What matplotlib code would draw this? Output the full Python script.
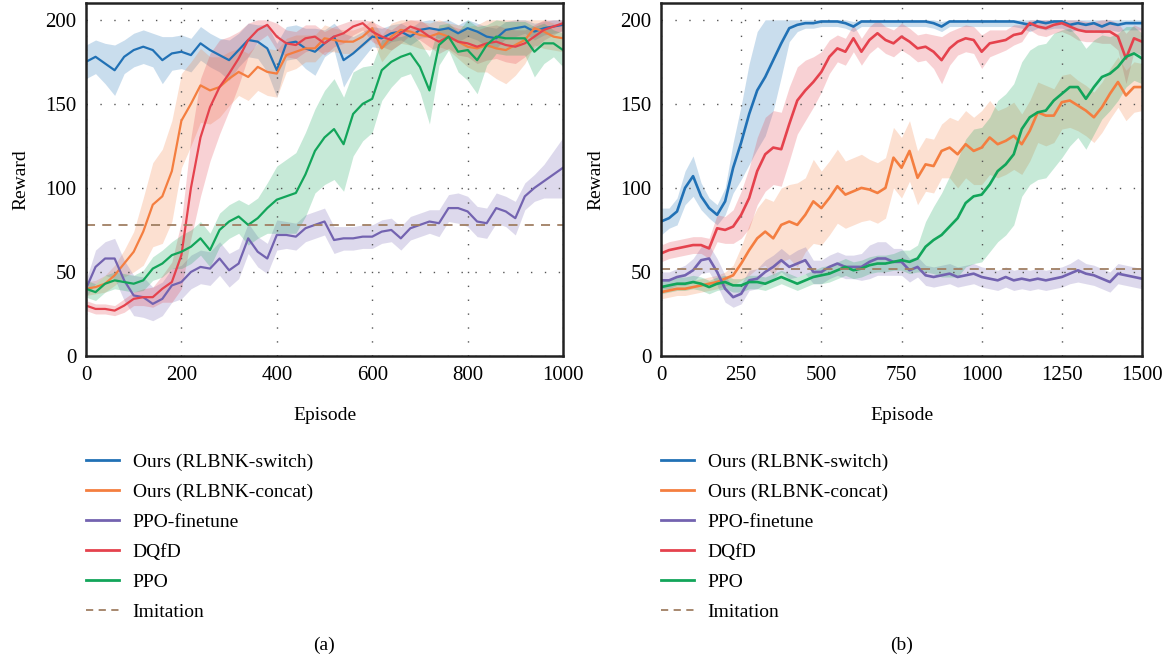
import numpy as np
from matplotlib import pyplot as plt
from matplotlib.lines import Line2D

plt.rcParams['font.family'] = ['Liberation Serif', 'DejaVu Serif']
plt.rcParams['font.size'] = 14

# ---------------- datos panel (a), cada 20 episodios ----------------
ep_a = np.arange(0, 1001, 20)

switch_a = [175, 178, 174, 170, 178, 182, 184, 182, 176, 180,
            181, 179, 186, 182, 179, 176, 182, 188, 187, 183,
            170, 186, 187, 183, 181, 186, 190, 176, 180, 185,
            190, 189, 192, 193, 190, 194, 195, 194, 195, 192,
            195, 193, 190, 189, 194, 195, 196, 193, 195, 196,
            197]
switch_a_sd = [10, 10, 12, 15, 10, 10, 10, 10, 14, 10,
               10, 10, 10, 10, 10, 12, 10, 10, 10, 14,
               16, 10, 10, 12, 14, 8, 8, 16, 10, 8,
               6, 6, 5, 5, 5, 5, 5, 5, 5, 5,
               5, 5, 6, 6, 5, 5, 4, 5, 4, 4,
               4]

concat_a = [40, 41, 43, 48, 55, 62, 74, 90, 95, 110,
            140, 150, 161, 158, 160, 165, 169, 166, 172, 169,
            168, 179, 181, 183, 183, 189, 188, 187, 187, 190,
            195, 183, 190, 194, 193, 191, 190, 192, 190, 187,
            184, 183, 185, 183, 182, 185, 188, 195, 193, 190,
            189]
concat_a_sd = [4, 4, 5, 6, 8, 12, 20, 25, 28, 30,
               28, 25, 22, 20, 18, 16, 14, 14, 14, 14,
               14, 10, 10, 8, 8, 8, 7, 7, 7, 6,
               6, 8, 8, 8, 8, 8, 8, 8, 8, 10,
               12, 14, 16, 18, 20, 18, 14, 10, 10, 8,
               8]

finetune_a = [40, 53, 58, 58, 45, 36, 35, 31, 34, 42,
              44, 50, 53, 52, 58, 51, 55, 70, 62, 58,
              72, 72, 71, 76, 78, 80, 69, 70, 70, 71,
              71, 74, 75, 70, 76, 78, 80, 79, 88, 88,
              86, 80, 79, 88, 86, 82, 95, 100, 104, 108,
              112]
finetune_a_sd = [5, 10, 10, 12, 12, 12, 12, 10, 10, 10,
                 10, 10, 10, 10, 10, 10, 9, 9, 9, 9,
                 9, 8, 8, 8, 8, 8, 8, 7, 7, 7,
                 7, 7, 7, 7, 7, 7, 7, 8, 8, 9,
                 9, 9, 9, 9, 9, 10, 8, 8, 10, 14,
                 18]

dqfd_a = [30, 28, 28, 27, 30, 34, 35, 35, 40, 44,
          60, 100, 130, 148, 160, 168, 177, 188, 194, 197,
          190, 186, 185, 189, 190, 186, 190, 192, 196, 198,
          193, 190, 188, 192, 196, 194, 190, 187, 190, 187,
          186, 184, 186, 187, 185, 184, 186, 190, 194, 196,
          198]
dqfd_a_sd = [3, 3, 3, 3, 4, 4, 5, 6, 8, 12,
             20, 30, 35, 32, 28, 22, 16, 10, 7, 6,
             8, 8, 8, 8, 7, 7, 6, 6, 5, 4,
             6, 6, 6, 6, 5, 6, 6, 7, 7, 8,
             8, 10, 10, 10, 10, 10, 8, 7, 6, 5,
             4]

ppo_a = [40, 38, 43, 45, 44, 43, 45, 52, 55, 60,
         62, 65, 70, 63, 75, 80, 83, 78, 82, 88,
         93, 95, 97, 108, 122, 130, 135, 126, 144, 150,
         153, 170, 175, 178, 180, 172, 158, 185, 190, 181,
         182, 176, 185, 190, 189, 189, 189, 181, 186, 186,
         182]
ppo_a_sd = [5, 5, 5, 5, 5, 5, 6, 7, 8, 8,
            10, 10, 10, 10, 10, 10, 10, 12, 12, 15,
            20, 22, 24, 25, 25, 28, 30, 28, 25, 22,
            20, 18, 15, 12, 12, 15, 20, 12, 8, 12,
            18, 20, 12, 10, 10, 10, 10, 15, 12, 8,
            10]

imitation_a = 78

# ---------------- datos panel (b), cada 25 episodios ----------------
ep_b = np.arange(0, 1501, 25)

switch_b = [80, 82, 86, 100, 107, 95, 88, 84, 92, 112,
            127, 144, 158, 166, 176, 186, 195, 197, 198, 198,
            199, 199, 199, 198, 196, 199, 199, 199, 199, 199,
            199, 199, 199, 199, 198, 196, 199, 199, 199, 199,
            199, 199, 199, 199, 199, 198, 197, 199, 198, 199,
            199, 197, 198, 197, 198, 196, 198, 197, 198, 198,
            198]
switch_b_sd = [8, 6, 8, 10, 12, 8, 6, 6, 8, 15,
               22, 30, 35, 35, 30, 20, 8, 4, 3, 3,
               3, 3, 3, 3, 3, 3, 3, 3, 3, 3,
               3, 3, 3, 3, 3, 3, 3, 3, 3, 3,
               3, 3, 3, 3, 3, 3, 4, 4, 4, 4,
               4, 4, 4, 4, 4, 4, 4, 4, 4, 4,
               4]

concat_b = [38, 39, 40, 40, 41, 42, 43, 44, 46, 48,
            55, 63, 70, 74, 70, 78, 80, 78, 84, 92,
            88, 94, 101, 96, 98, 100, 99, 97, 100, 118,
            112, 122, 106, 114, 113, 122, 124, 120, 126, 122,
            124, 130, 126, 128, 131, 126, 134, 145, 143, 143,
            151, 152, 149, 146, 142, 148, 156, 163, 155, 160,
            160]
concat_b_sd = [4, 4, 4, 4, 4, 4, 4, 4, 4, 6,
               10, 15, 18, 20, 22, 22, 22, 25, 22, 25,
               22, 22, 22, 20, 20, 20, 18, 18, 18, 18,
               18, 18, 16, 16, 16, 16, 18, 20, 20, 20,
               22, 22, 20, 20, 20, 18, 18, 18, 18, 16,
               16, 16, 15, 15, 15, 15, 15, 15, 15, 15,
               14]

finetune_b = [45, 45, 47, 48, 51, 57, 58, 50, 40, 35,
              37, 45, 46, 50, 53, 57, 53, 55, 57, 50,
              50, 53, 55, 53, 53, 53, 56, 58, 58, 56,
              56, 51, 53, 48, 47, 48, 49, 47, 48, 49,
              47, 46, 45, 47, 45, 46, 45, 46, 45, 46,
              47, 49, 51, 49, 48, 46, 44, 49, 48, 47,
              46]
finetune_b_sd = [5, 5, 5, 6, 7, 8, 8, 8, 8, 6,
                 6, 6, 6, 7, 7, 7, 7, 8, 8, 7,
                 7, 7, 7, 7, 7, 8, 10, 10, 10, 8,
                 8, 7, 6, 6, 6, 6, 6, 6, 6, 6,
                 6, 6, 6, 6, 6, 6, 6, 6, 6, 6,
                 6, 6, 7, 6, 6, 6, 6, 6, 6, 6,
                 6]

dqfd_b = [61, 63, 64, 65, 66, 66, 64, 76, 75, 77,
          84, 94, 110, 120, 124, 123, 138, 152, 158, 163,
          169, 178, 183, 181, 189, 181, 188, 192, 188, 186,
          190, 187, 183, 184, 181, 176, 183, 187, 189, 188,
          181, 186, 187, 188, 191, 192, 198, 196, 195, 197,
          198, 196, 194, 193, 193, 193, 193, 190, 177, 189,
          187]
dqfd_b_sd = [5, 5, 5, 5, 5, 5, 6, 8, 8, 10,
             14, 18, 20, 22, 22, 22, 22, 20, 18, 15,
             12, 10, 8, 8, 8, 8, 8, 8, 8, 8,
             8, 8, 8, 8, 10, 14, 10, 8, 8, 8,
             10, 8, 7, 6, 6, 5, 4, 5, 5, 5,
             5, 5, 6, 6, 6, 7, 7, 8, 15, 8,
             8]

ppo_b = [41, 42, 43, 43, 44, 43, 41, 43, 44, 42,
         42, 44, 44, 43, 45, 47, 45, 43, 45, 47,
         48, 49, 51, 53, 51, 52, 54, 55, 55, 56,
         57, 56, 58, 65, 69, 72, 77, 82, 91, 95,
         96, 102, 110, 114, 120, 135, 142, 145, 146, 152,
         156, 160, 160, 153, 160, 166, 168, 172, 178, 180,
         177]
ppo_b_sd = [4, 4, 4, 4, 4, 4, 4, 4, 4, 4,
            4, 4, 4, 4, 4, 4, 4, 4, 4, 4,
            5, 5, 5, 5, 5, 5, 5, 5, 5, 5,
            6, 7, 8, 15, 20, 25, 30, 35, 38, 40,
            40, 40, 42, 42, 42, 40, 40, 40, 40, 40,
            38, 35, 30, 30, 28, 25, 22, 20, 18, 16,
            15]

imitation_b = 52

labels = ['Ours (RLBNK-switch)', 'Ours (RLBNK-concat)', 'PPO-finetune',
          'DQfD', 'PPO', 'Imitation']
colores = ['#2171b5', '#f47e40', '#7363b0', '#e5424d', '#12a55a']
col_imit = '#a07f63'


def panel(ax, ep, series, imit, xticks, lw):
    for (media, sd), c in zip(series, colores):
        media = np.array(media, dtype=float)
        sd = np.array(sd, dtype=float)
        ax.fill_between(ep, media - sd, np.minimum(media + sd, 200), color=c,
                        alpha=0.24, lw=0)
        ax.plot(ep, media, color=c, lw=lw)
    ax.axhline(imit, color=col_imit, lw=1.3, linestyle=(0, (5, 4)))
    ax.set_xlim(ep[0], ep[-1])
    ax.set_ylim(0, 210)
    ax.set_xticks(xticks)
    ax.set_yticks([0, 50, 100, 150, 200])
    ax.tick_params(length=0, pad=7, labelsize=15)
    ax.grid(True, color='#555555', lw=1.0, linestyle=(0, (1, 9)))
    for s in ax.spines.values():
        s.set_linewidth(1.8)
        s.set_color('#222222')
    ax.set_xlabel('Episode', labelpad=16)
    ax.set_ylabel('Reward', labelpad=11)


fig = plt.figure(figsize=(11.64, 6.61), dpi=100)
ax1 = fig.add_axes([86 / 1164, 1 - 356 / 661, 477 / 1164, 353 / 661])
ax2 = fig.add_axes([661 / 1164, 1 - 356 / 661, 481 / 1164, 353 / 661])

panel(ax1, ep_a, [(switch_a, switch_a_sd), (concat_a, concat_a_sd),
                  (finetune_a, finetune_a_sd), (dqfd_a, dqfd_a_sd),
                  (ppo_a, ppo_a_sd)], imitation_a,
      [0, 200, 400, 600, 800, 1000], 1.6)
panel(ax2, ep_b, [(switch_b, switch_b_sd), (concat_b, concat_b_sd),
                  (finetune_b, finetune_b_sd), (dqfd_b, dqfd_b_sd),
                  (ppo_b, ppo_b_sd)], imitation_b,
      [0, 250, 500, 750, 1000, 1250, 1500], 1.9)

# leyendas debajo de cada panel
handles = [Line2D([], [], color=c, lw=2) for c in colores]
handles.append(Line2D([], [], color=col_imit, lw=1.3, linestyle=(0, (4, 3))))
for xl in [86 / 1164, 661 / 1164]:
    fig.legend(handles, labels, loc='upper left', bbox_to_anchor=(xl, 1 - 453 / 661),
               frameon=False, handlelength=1.7, handletextpad=0.7,
               labelspacing=0.64, borderpad=0, borderaxespad=0)

fig.text((86 + 563) / 2 / 1164, 1 - 645 / 661, '(a)', ha='center', va='center')
fig.text((661 + 1142) / 2 / 1164, 1 - 645 / 661, '(b)', ha='center', va='center')

fig.savefig('out.png', dpi=100)
